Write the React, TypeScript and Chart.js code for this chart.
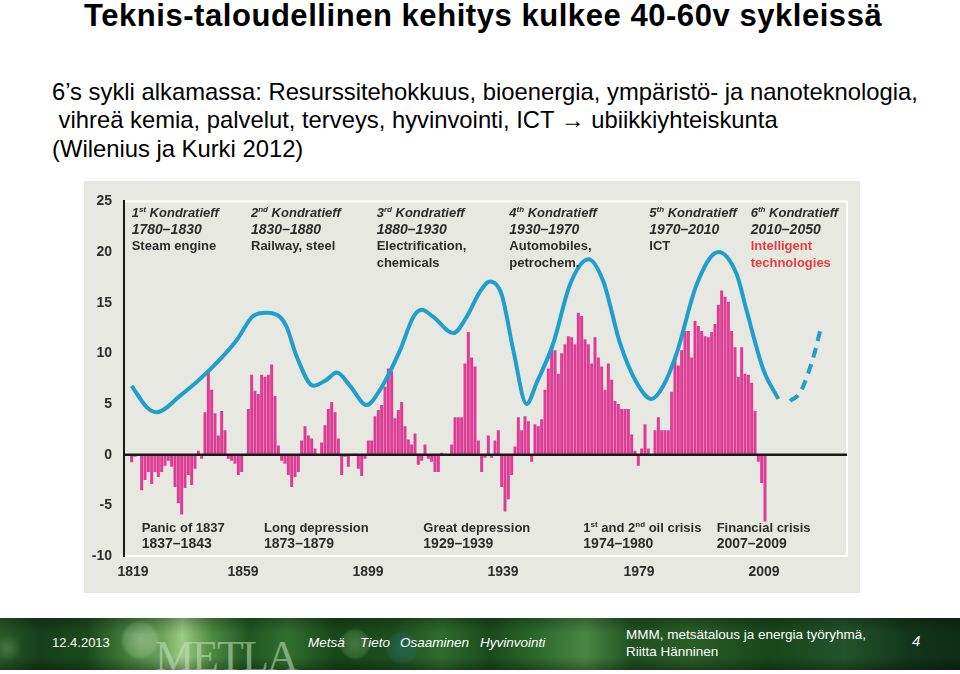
import React, { useEffect, useRef } from 'react';
import { Chart, registerables } from 'chart.js';

Chart.register(...registerables);

// ---------- data ----------
const FIRST_YEAR = 1819;
// annual growth bars (1819 ... 2009)
const growthValues = [
  -0.75, -0.2, -0.1, -3.5, -2.5, -1.7, -2.9, -1.7, -2.2, -1.7, -1.1, -0.6, -1.2, -3.2, -4.8, -5.9, -3.3, -2.0, -3.0, -1.4, 0.4, -0.4,
  4.2, 8.3, 6.4, 4.1, 1.9, 4.3, 2.4,
  -0.4, -0.6, -0.9, -2.0, -1.7, -0.1,
  4.5, 7.9, 6.3, 6.0, 7.9, 7.7, 7.9, 8.9, 5.8, 0.9,
  -0.6, -0.9, -2.0, -3.2, -2.2, -1.7,
  1.4, 2.8, 1.9, 1.6, 0.6, -0.1,
  1.2, 2.9, 4.5, 5.2, 4.2, 1.6,
  -2.0, -0.2, -1.2, -0.1, 0.1, -1.4, -2.1, -0.4,
  1.4, 1.4, 3.8, 4.4, 4.9, 6.7, 8.5, 8.2, 3.6, 4.4, 5.2, 2.8, 1.5, 1.0, 2.1,
  -1.0, -0.6, 1.0, -0.4, -0.7, -1.7, -1.7, 0.2, 0.1, 0, 1.0,
  3.7, 3.7, 3.7, 9.0, 12.1, 9.6, 8.7, 1.4,
  -1.7, -0.3, 1.9, -0.3, 1.4, 2.4, -3.2, -5.6, -4.4, -2.0, 0.8,
  3.7, 2.4, 3.8, 3.3, -0.7, 3.0, 2.8, 3.5, 6.4, 8.5, 10.6, 10.3, 8.0, 10.0, 10.9, 11.7, 11.6, 10.9, 14.0, 13.7,
  11.4, 10.9, 9.0, 11.6, 9.6, 8.7, 6.4, 9.0, 7.4, 5.3, 5.0, 4.5, 4.5, 4.5, 2.0, 0.4, -1.1, 0.6, 3.0, 0.6,
  -0.1, 2.4, 3.7, 2.4, 2.4, 2.4, 6.2, 9.6, 8.8, 10.3, 12.2, 12.2, 9.6, 13.2, 12.7, 12.2, 11.7, 11.6, 12.1, 12.9,
  14.8, 16.2, 15.6, 15.1, 12.2, 10.6, 7.7, 10.6, 8.0, 7.9, 7.1, 4.3, -0.7, -2.8, -6.6,
];
const barYears = growthValues.map((_, i) => FIRST_YEAR + i);

// long-wave curve (solid part)
const waveYears = [
  1819.0, 1823.5, 1826.5, 1833.5, 1842.5, 1850.5, 1855.5, 1859.5, 1863.5, 1865.5, 1868.5, 1873.5, 1877.5, 1880.5,
  1884.5, 1889.5, 1893.5, 1899.5, 1903.5, 1906.0, 1909.5, 1915.5, 1919.5, 1923.5, 1926.5, 1930.0, 1933.5, 1937.5,
  1940.5, 1945.5, 1950.5, 1956.0, 1960.5, 1965.5, 1970.5, 1975.0, 1978.5, 1982.5, 1988.5, 1995.0, 2000.5, 2003.5,
  2008.5, 2013.0,
];
const waveValues = [
  6.8, 4.7, 4.2, 5.8, 8.4, 11.3, 13.7, 14.0, 13.6, 12.6, 9.7, 6.8, 7.4, 8.1,
  6.8, 4.9, 6.4, 10.3, 13.6, 14.3, 13.6, 12.0, 13.6, 16.1, 17.1, 15.8, 10.3, 5.0,
  7.1, 11.0, 16.8, 19.3, 17.1, 11.0, 7.1, 5.5, 6.8, 10.0, 16.8, 20.0, 17.8, 14.2,
  8.4, 5.5,
];
// long-wave forecast (dashed part)
const forecastYears = [2016.5, 2019.5, 2021.9, 2024.0, 2025.8];
const forecastValues = [5.3, 6.1, 8.0, 10.2, 12.6];

// axes
const X_MIN = 1816.7;
const X_MAX = 2033.6;
const Y_MIN = -10;
const Y_MAX = 25;
const Y_STEP = 5;
const xTickLabels = ['1819', '1859', '1899', '1939', '1979', '2009'];
const xTickAt = [1819.4, 1852.4, 1889.9, 1930.4, 1971.2, 2008.7];

// Kondratieff wave labels
const waveOrdinals = ['1^{st}', '2^{nd}', '3^{rd}', '4^{th}', '5^{th}', '6^{th}'];
const wavePeriods = ['1780–1830', '1830–1880', '1880–1930', '1930–1970', '1970–2010', '2010–2050'];
const waveTechs = [
  ['Steam engine'],
  ['Railway, steel'],
  ['Electrification,', 'chemicals'],
  ['Automobiles,', 'petrochem.'],
  ['ICT'],
  ['Intelligent', 'technologies'],
];
const waveLabelYears = [1819.0, 1854.8, 1892.5, 1932.3, 1974.3, 2004.7];

// crisis labels
const crisisNames = ['Panic of 1837', 'Long depression', 'Great depression', '1^{st} and 2^{nd} oil crisis', 'Financial crisis'];
const crisisPeriods = ['1837–1843', '1873–1879', '1929–1939', '1974–1980', '2007–2009'];
const crisisLabelYears = [1822.0, 1858.7, 1906.5, 1954.5, 1994.5];

// ---------- styling ----------
const FONT = '"Liberation Sans", Arial, Helvetica, sans-serif';
const BAR_COLOR = '#dd3c94';
const LINE_COLOR = '#1f9fcc';
const TEXT_COLOR = '#2c2c2c';
const RED_TEXT = '#e2403a';

function parseRich(s: string): [string, boolean][] {
  const out: [string, boolean][] = [];
  const re = /\^\{([^}]*)\}/g;
  let last = 0;
  let m: RegExpExecArray | null;
  while ((m = re.exec(s))) {
    if (m.index > last) out.push([s.slice(last, m.index), false]);
    out.push([m[1], true]);
    last = m.index + m[0].length;
  }
  if (last < s.length) out.push([s.slice(last), false]);
  return out;
}

function drawRich(ctx: CanvasRenderingContext2D, text: string, x: number, y: number, size: number, style: string, color: string) {
  let cx = x;
  ctx.fillStyle = color;
  ctx.textBaseline = 'alphabetic';
  ctx.textAlign = 'left';
  for (const [t, sup] of parseRich(text)) {
    const fs = sup ? Math.round(size * 0.62) : size;
    ctx.font = `${style} ${fs}px ${FONT}`;
    ctx.fillText(t, cx, sup ? y - size * 0.38 : y);
    cx += ctx.measureText(t).width;
  }
}

const decorPlugin = {
  id: 'decor',
  beforeDraw(chart: any) {
    const { ctx, chartArea: a } = chart;
    ctx.save();
    ctx.strokeStyle = '#ffffff';
    ctx.lineWidth = 2;
    ctx.strokeRect(a.left, a.top, a.right - a.left, a.bottom - a.top);
    ctx.restore();
  },
  afterDatasetsDraw(chart: any) {
    const { ctx, chartArea: a, scales } = chart;
    const xs = scales.x;
    const ys = scales.y;
    ctx.save();
    // zero line
    const y0 = ys.getPixelForValue(0);
    ctx.strokeStyle = '#1a1a1a';
    ctx.lineWidth = 2.5;
    ctx.beginPath();
    ctx.moveTo(a.left, y0);
    ctx.lineTo(a.right, y0);
    ctx.stroke();

    // wave labels at top
    const lh = 16.6;
    waveLabelYears.forEach((yr, i) => {
      const x = xs.getPixelForValue(yr);
      let by = a.top + 15.7;
      drawRich(ctx, waveOrdinals[i] + ' Kondratieff', x, by, 13, 'italic bold', TEXT_COLOR);
      by += lh;
      drawRich(ctx, wavePeriods[i], x, by, 14, 'italic bold', TEXT_COLOR);
      const techColor = i === waveLabelYears.length - 1 ? RED_TEXT : TEXT_COLOR;
      waveTechs[i].forEach((t) => {
        by += lh;
        drawRich(ctx, t, x, by, 13, 'bold', techColor);
      });
    });

    // crisis labels at bottom
    crisisLabelYears.forEach((yr, i) => {
      const x = xs.getPixelForValue(yr);
      drawRich(ctx, crisisNames[i], x, a.bottom - 24, 13, 'bold', TEXT_COLOR);
      drawRich(ctx, crisisPeriods[i], x, a.bottom - 8, 14, 'bold', TEXT_COLOR);
    });
    ctx.restore();
  },
};

function ChartPanel() {
  const ref = useRef<HTMLCanvasElement>(null);
  useEffect(() => {
    if (!ref.current) return;
    const chart = new Chart(ref.current, {
      type: 'bar',
      data: {
        datasets: [
          {
            type: 'line',
            data: waveYears.map((x, i) => ({ x, y: waveValues[i] })),
            borderColor: LINE_COLOR,
            borderWidth: 4,
            pointRadius: 0,
            cubicInterpolationMode: 'monotone',
            fill: false,
            order: 0,
          } as any,
          {
            type: 'line',
            data: forecastYears.map((x, i) => ({ x, y: forecastValues[i] })),
            borderColor: LINE_COLOR,
            borderWidth: 4,
            borderDash: [10, 7],
            pointRadius: 0,
            cubicInterpolationMode: 'monotone',
            fill: false,
            order: 0,
          } as any,
          {
            type: 'bar',
            data: barYears.map((x, i) => ({ x, y: growthValues[i] })),
            backgroundColor: BAR_COLOR,
            borderWidth: 0,
            barPercentage: 0.9,
            categoryPercentage: 1,
            order: 1,
          } as any,
        ],
      },
      options: {
        responsive: false,
        animation: false,
        events: [],
        layout: { padding: { top: 14, right: 13, left: 0, bottom: 0 } },
        plugins: { legend: { display: false }, tooltip: { enabled: false } },
        scales: {
          x: {
            type: 'linear',
            min: X_MIN,
            max: X_MAX,
            offset: false,
            grid: { display: false, drawTicks: false },
            border: { display: false },
            afterFit: (s: any) => { s.height = 37; },
            afterBuildTicks: (s: any) => { s.ticks = xTickAt.map((v) => ({ value: v })); },
            ticks: {
              autoSkip: false,
              maxRotation: 0,
              padding: 8,
              color: TEXT_COLOR,
              font: { family: FONT, size: 14, weight: 'bold' },
              callback: (_v: any, idx: number) => xTickLabels[idx] ?? '',
            },
          },
          y: {
            min: Y_MIN,
            max: Y_MAX,
            grid: { display: false, drawTicks: false },
            border: { display: true, color: '#1a1a1a', width: 2 },
            afterFit: (s: any) => { s.width = 40; },
            ticks: {
              stepSize: Y_STEP,
              padding: 12,
              color: TEXT_COLOR,
              font: { family: FONT, size: 14, weight: 'bold' },
            },
          },
        },
      } as any,
      plugins: [decorPlugin],
    });
    return () => chart.destroy();
  }, []);
  return <canvas ref={ref} width={776} height={412} style={{ display: 'block', width: 776, height: 412 }} />;
}

function Txt(props: { x: number; base: number; size: number; children: React.ReactNode; style?: React.CSSProperties }) {
  const { x, base, size, children, style } = props;
  return (
    <div
      style={{
        position: 'absolute',
        left: x,
        top: base - 0.8465 * size,
        fontSize: size,
        lineHeight: `${size}px`,
        whiteSpace: 'pre',
        fontFamily: FONT,
        ...style,
      }}
    >
      {children}
    </div>
  );
}

const footerBg =
  'radial-gradient(circle at 140px 22px, rgba(230,255,220,0.35) 0, rgba(230,255,220,0.18) 16px, rgba(0,0,0,0) 20px),' +
  'radial-gradient(circle at 355px 26px, rgba(150,200,140,0.35) 0, rgba(150,200,140,0.2) 13px, rgba(0,0,0,0) 16px),' +
  'radial-gradient(circle at 402px 30px, rgba(40,110,110,0.55) 0, rgba(40,110,110,0.3) 14px, rgba(0,0,0,0) 17px),' +
  'radial-gradient(circle at 8px 30px, rgba(120,170,110,0.4) 0, rgba(0,0,0,0) 14px),' +
  'linear-gradient(90deg, #2a5a2a 0%, #163f19 4%, #1a4a1c 9%, #3f7a38 13%, #6da45c 17%, #9ccc86 19%, #4d8a42 22%, #1f5622 26%, #336f30 30%, #174618 35%, #1c4f1e 41%, #2f6c2e 46%, #1a4a1b 51%, #2b6a2c 56%, #4a8643 61%, #1f5020 66%, #2a5e28 72%, #184619 80%, #22532a 88%, #12351a 95%, #0f2d14 100%)';

export default function App() {
  return (
    <div style={{ position: 'absolute', left: 0, top: 0, width: 960, height: 674, background: '#ffffff', overflow: 'hidden', fontFamily: FONT, color: '#000' }}>
      <Txt x={84} base={26} size={31} style={{ fontWeight: 'bold', letterSpacing: '0.55px' }}>
        Teknis-taloudellinen kehitys kulkee 40-60v sykleissä
      </Txt>
      <Txt x={52} base={100} size={23.8}>6’s sykli alkamassa: Resurssitehokkuus, bioenergia, ympäristö- ja nanoteknologia,</Txt>
      <Txt x={52} base={128.4} size={23.8}> vihreä kemia, palvelut, terveys, hyvinvointi, ICT → ubiikkiyhteiskunta</Txt>
      <Txt x={52} base={156.8} size={23.8}>(Wilenius ja Kurki 2012)</Txt>

      <div style={{ position: 'absolute', left: 84, top: 181, width: 776, height: 412, background: '#e8e8e3' }}>
        <ChartPanel />
      </div>

      <div style={{ position: 'absolute', left: 0, top: 618, width: 960, height: 52, background: footerBg, overflow: 'hidden' }}>
        <div
          style={{
            position: 'absolute', left: 0, top: 0, width: 960, height: 52,
            background: 'linear-gradient(180deg, rgba(0,0,0,0.25) 0%, rgba(0,0,0,0) 30%, rgba(0,0,0,0) 75%, rgba(0,0,0,0.3) 100%)',
          }}
        />
        <Txt x={52} base={29} size={13} style={{ color: '#ffffff' }}>12.4.2013</Txt>
        <Txt x={155} base={54} size={44} style={{ color: 'rgba(205,230,195,0.55)', fontFamily: '"Liberation Serif", "Times New Roman", serif', letterSpacing: '-2px' }}>METLA</Txt>
        <Txt x={308} base={29} size={13.5} style={{ color: '#ffffff', fontStyle: 'italic' }}>Metsä</Txt>
        <Txt x={360} base={29} size={13.5} style={{ color: '#ffffff', fontStyle: 'italic' }}>Tieto</Txt>
        <Txt x={400} base={29} size={13.5} style={{ color: '#ffffff', fontStyle: 'italic' }}>Osaaminen</Txt>
        <Txt x={480} base={29} size={13.5} style={{ color: '#ffffff', fontStyle: 'italic' }}>Hyvinvointi</Txt>
        <Txt x={626} base={21.5} size={13.5} style={{ color: '#ffffff' }}>MMM, metsätalous ja energia työryhmä,</Txt>
        <Txt x={626} base={38} size={13.5} style={{ color: '#ffffff' }}>Riitta Hänninen</Txt>
        <Txt x={912} base={28} size={15} style={{ color: '#ffffff', fontStyle: 'italic' }}>4</Txt>
      </div>
    </div>
  );
}
